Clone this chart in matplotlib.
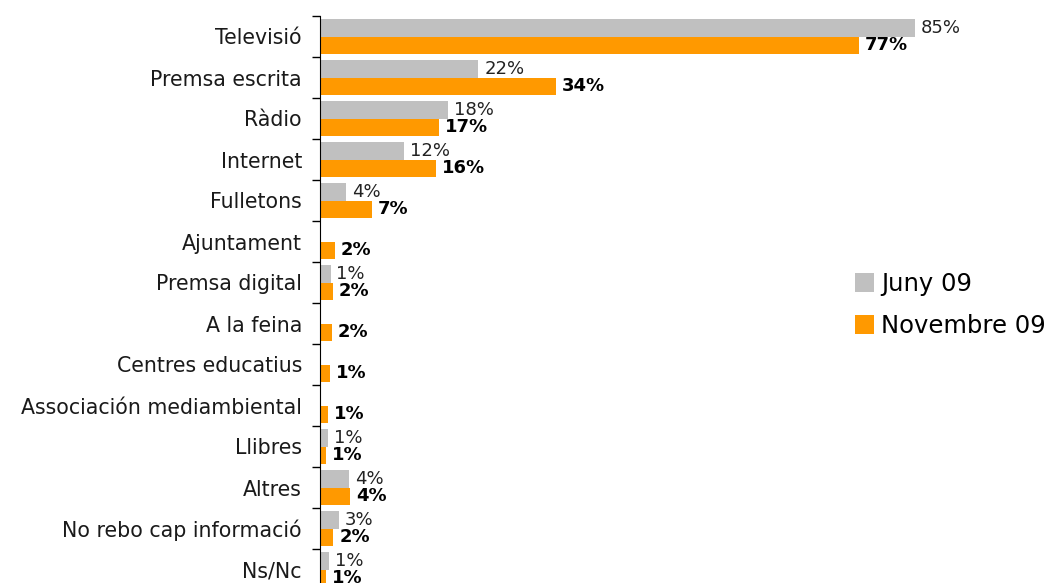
import matplotlib.pyplot as plt
import numpy as np

categories = ["Televisió", "Premsa escrita", "Ràdio", "Internet", "Fulletons",
              "Ajuntament", "Premsa digital", "A la feina", "Centres educatius",
              "Associación mediambiental", "Llibres", "Altres",
              "No rebo cap informació", "Ns/Nc"]
# bar lengths and printed labels
juny = [85, 22.6, 18.3, 12, 3.7, np.nan, 1.5, np.nan, np.nan, np.nan, 1.1, 4.1, 2.7, 1.3]
juny_labels = ["85%", "22%", "18%", "12%", "4%", "", "1%", "", "", "", "1%", "4%", "3%", "1%"]
nov = [77, 33.7, 17, 16.6, 7.4, 2.1, 1.8, 1.7, 1.4, 1.1, 0.9, 4.3, 1.9, 0.9]
nov_labels = ["77%", "34%", "17%", "16%", "7%", "2%", "2%", "2%", "1%", "1%", "1%", "4%", "2%", "1%"]

gray = "#C0C0C0"
orange = "#FF9900"

fig = plt.figure(figsize=(10.53, 5.83), dpi=100)
ax = fig.add_axes([320 / 1053, 1 - 590 / 583, 700 / 1053, 574 / 583])

y = np.arange(len(categories))
h = 0.415
ax.barh(y - h / 2, juny, height=h, color=gray, label="Juny 09")
ax.barh(y + h / 2, nov, height=h, color=orange, label="Novembre 09")

for i in range(len(categories)):
    if juny_labels[i]:
        ax.annotate(juny_labels[i], (juny[i], y[i] - h / 2), xytext=(6, 0),
                    textcoords="offset pixels", va="center", ha="left",
                    fontsize=13, color="#222222")
    ax.annotate(nov_labels[i], (nov[i], y[i] + h / 2), xytext=(6, 0),
                textcoords="offset pixels", va="center", ha="left",
                fontsize=13, fontweight="bold", color="black")

ax.set_xlim(0, 100)
ax.set_ylim(len(categories) - 0.5, -0.5)
ax.set_yticks(y)
ax.set_yticklabels(categories, fontsize=14.8, color="#1a1a1a")
ax.tick_params(axis="y", which="major", length=0, pad=13)
ax.set_yticks(np.arange(len(categories) + 1) - 0.5, minor=True)
ax.tick_params(axis="y", which="minor", length=6, width=1, color="black")
ax.set_xticks([])
for s in ["top", "right", "bottom"]:
    ax.spines[s].set_visible(False)
ax.spines["left"].set_color("black")

ax.legend(loc="upper left", bbox_to_anchor=(845 / 1053, 1 - 262 / 583),
          bbox_transform=fig.transFigure, frameon=False, fontsize=17.5,
          handlelength=0.8, handleheight=0.8, handletextpad=0.3,
          labelspacing=0.75, borderaxespad=0)

fig.savefig("out.png", dpi=100)
